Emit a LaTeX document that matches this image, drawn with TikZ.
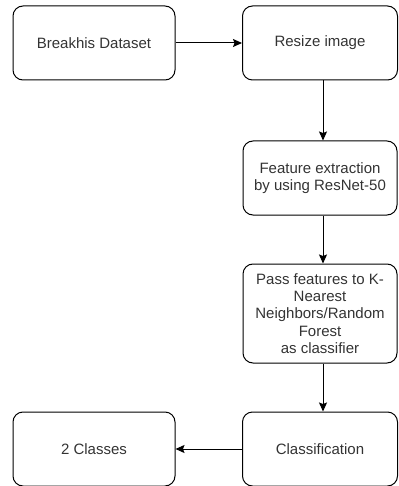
\documentclass[tikz,border=0pt]{standalone}
\usepackage{fontspec}
\setmainfont{Liberation Sans}
\usetikzlibrary{arrows.meta}
\definecolor{txt}{HTML}{333333}
\begin{document}
\begin{tikzpicture}[x=1pt,y=-1pt,
  box/.style={draw=black,line width=1pt,rounded corners=10pt,text=txt,align=center,
    font=\fontsize{15}{17.3}\selectfont,inner sep=0pt},
  arr/.style={draw=black,line width=1pt,-{Stealth[length=9pt,width=8pt,inset=1.5pt]}}]
\useasboundingbox (0,0) rectangle (398,486);
\node[box,minimum width=162pt,minimum height=74pt] (a) at (94,43) {Breakhis Dataset};
\node[box,minimum width=155pt,minimum height=74pt] (b) at (320,43) {Resize image};
\node[box,minimum width=154pt,minimum height=74pt] (c) at (320,178) {Feature extraction\\by using ResNet-50};
\node[box,minimum width=154pt,minimum height=99pt] (d) at (320,313.5) {Pass features to K-\\Nearest\\Neighbors/Random\\Forest\\as classifier};
\node[box,minimum width=155pt,minimum height=74pt] (e) at (320,449) {Classification};
\node[box,minimum width=162pt,minimum height=74pt] (f) at (94,449) {2 Classes};
\coordinate (ax) at (323,0);
\draw[arr] (a) -- (b);
\draw[arr] (b.south -| ax) -- (c.north -| ax);
\draw[arr] (c.south -| ax) -- (d.north -| ax);
\draw[arr] (d.south -| ax) -- (e.north -| ax);
\draw[arr] (e) -- (f);
\end{tikzpicture}
\end{document}
